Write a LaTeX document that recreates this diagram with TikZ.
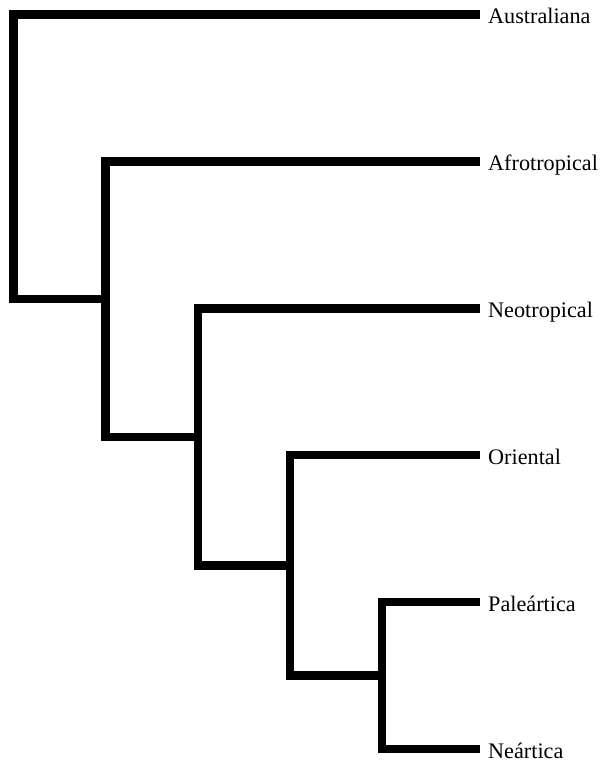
\documentclass[tikz,border=0pt]{standalone}
\usepackage{fontspec}
\setmainfont{Liberation Serif}
\usetikzlibrary{positioning}

\tikzset{
  branch/.style={line width=8.5pt, line join=miter},
  taxon/.style={inner sep=0pt, text height=18pt, text depth=0pt,
    font=\fontsize{22.2}{26}\selectfont}
}

\begin{document}
\begin{tikzpicture}[x=1pt, y=-1pt]
\useasboundingbox (0,0) rectangle (603,763);

% branch tips
\coordinate (aus) at (480, 14.5);
\coordinate (afr) at (480, 161.5);
\coordinate (neo) at (480, 308.5);
\coordinate (ori) at (480, 455);
\coordinate (pal) at (480, 602);
\coordinate (nea) at (480, 749);

% inner nodes, each at the middle of its bar
\coordinate (n5) at (382, 675.5);
\coordinate (n4) at (290, 565.3);
\coordinate (n3) at (198, 436.9);
\coordinate (n2) at (105.5, 299.2);
\coordinate (n1) at (13.5, 156.8);

\draw[branch] (aus) -| (n1) |- (n2);
\draw[branch] (afr) -| (n2) |- (n3);
\draw[branch] (neo) -| (n3) |- (n4);
\draw[branch] (ori) -| (n4) |- (n5);
\draw[branch] (pal) -| (n5) |- (nea);

% names
\node[taxon, right=8pt of aus] (lAus) {Australiana};
\node[taxon, right=8pt of afr] (lAfr) {Afrotropical};
\node[taxon, right=8pt of neo] (lNeo) {Neotropical};
\node[taxon, right=8pt of ori] (lOri) {Oriental};
\node[taxon, right=8pt of pal] (lPal) {Paleártica};
\node[taxon, right=8pt of nea] (lNea) {Neártica};
\end{tikzpicture}
\end{document}
